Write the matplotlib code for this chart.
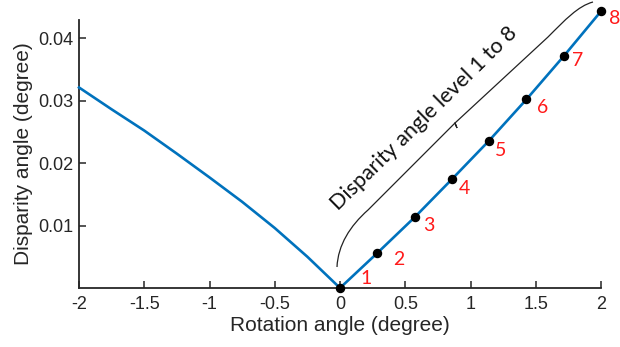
import matplotlib
matplotlib.use("Agg")
import matplotlib.pyplot as plt
from matplotlib.path import Path
from matplotlib.patches import PathPatch
from matplotlib.transforms import Affine2D

# ---- data ----
left_x = [-2.0, -1.75, -1.5, -1.25, -1.0, -0.75, -0.5, -0.25, 0.0]
left_y = [0.0321, 0.0286, 0.0252, 0.0215, 0.0177, 0.0138, 0.0096, 0.0050, 0.0]
level_x = [0.0, 0.286, 0.571, 0.857, 1.143, 1.429, 1.714, 2.0]
level_y = [0.0, 0.0056, 0.0113, 0.0174, 0.0236, 0.0302, 0.0371, 0.0443]
level_labels = ["1", "2", "3", "4", "5", "6", "7", "8"]
xticks = [-2, -1.5, -1, -0.5, 0, 0.5, 1, 1.5, 2]
xtick_labels = ["-2", "-1.5", "-1", "-0.5", "0", "0.5", "1", "1.5", "2"]
yticks = [0.01, 0.02, 0.03, 0.04]
ytick_labels = ["0.01", "0.02", "0.03", "0.04"]

plt.rcParams['font.family'] = ['Liberation Sans', 'DejaVu Sans']

W, H = 620, 347
fig = plt.figure(figsize=(W / 100, H / 100), dpi=100)
ax = fig.add_axes([79 / W, 59 / H, 522 / W, 268 / H])

blue = "#0072BD"
ax.plot(left_x, left_y, color=blue, lw=1.9, clip_on=False, zorder=3)
ax.plot(level_x, level_y, color=blue, lw=1.9, clip_on=False, zorder=3)
ax.plot(level_x, level_y, 'o', color='black', ms=5.8, clip_on=False, zorder=4)

# red level labels (offsets in pixels)
offsets = [(26, 9), (21, -6), (14, -8), (13, -9), (11, -10), (16, -8), (14, -4), (14, -7)]
for x, y, lab, (dx, dy) in zip(level_x, level_y, level_labels, offsets):
    ax.annotate(lab, (x, y), xytext=(dx, dy), textcoords='offset pixels',
                color='#FF1A1A', fontsize=14, family=['Lato', 'DejaVu Sans'],
                ha='center', va='center', annotation_clip=False)

ax.set_xlim(-2, 2)
ax.set_ylim(0, 0.0429)
ax.set_xticks(xticks)
ax.set_xticklabels(xtick_labels)
ax.set_yticks(yticks)
ax.set_yticklabels(ytick_labels)
ax.tick_params(direction='in', length=5, width=1.1, labelsize=13, colors='#262626',
               labelcolor='#262626')
ax.tick_params(axis='x', pad=6)
ax.tick_params(axis='y', pad=4)
for s in ['top', 'right']:
    ax.spines[s].set_visible(False)
for s in ['left', 'bottom']:
    ax.spines[s].set_linewidth(1.3)
    ax.spines[s].set_color('#262626')

ax.set_xlabel("Rotation angle (degree)", fontsize=15, color='#262626', labelpad=2)
ax.set_ylabel("Disparity angle (degree)", fontsize=15, color='#262626', labelpad=4)

# bracket (in image pixel coords)
pix = Affine2D().scale(1, -1).translate(0, H)
verts = [(337, 267), (338, 245), (350, 226), (368, 210),
         (455, 123), (457, 128), (455, 123),
         (548, 37), (565, 20), (578, 6), (593, 2)]
codes = [Path.MOVETO, Path.CURVE4, Path.CURVE4, Path.CURVE4,
         Path.LINETO, Path.LINETO, Path.LINETO,
         Path.LINETO, Path.CURVE4, Path.CURVE4, Path.CURVE4]
fig.patches.append(PathPatch(Path(verts, codes), transform=pix, fill=False,
                             lw=0.9, color='#222222'))

fig.text(424 / W, 1 - 118 / H, "Disparity angle level 1 to 8", rotation=44.5,
         rotation_mode='anchor', ha='center', va='center', fontsize=15.5,
         family=['Lato', 'DejaVu Sans'], color='#111111')

fig.savefig("out.png", dpi=100)
